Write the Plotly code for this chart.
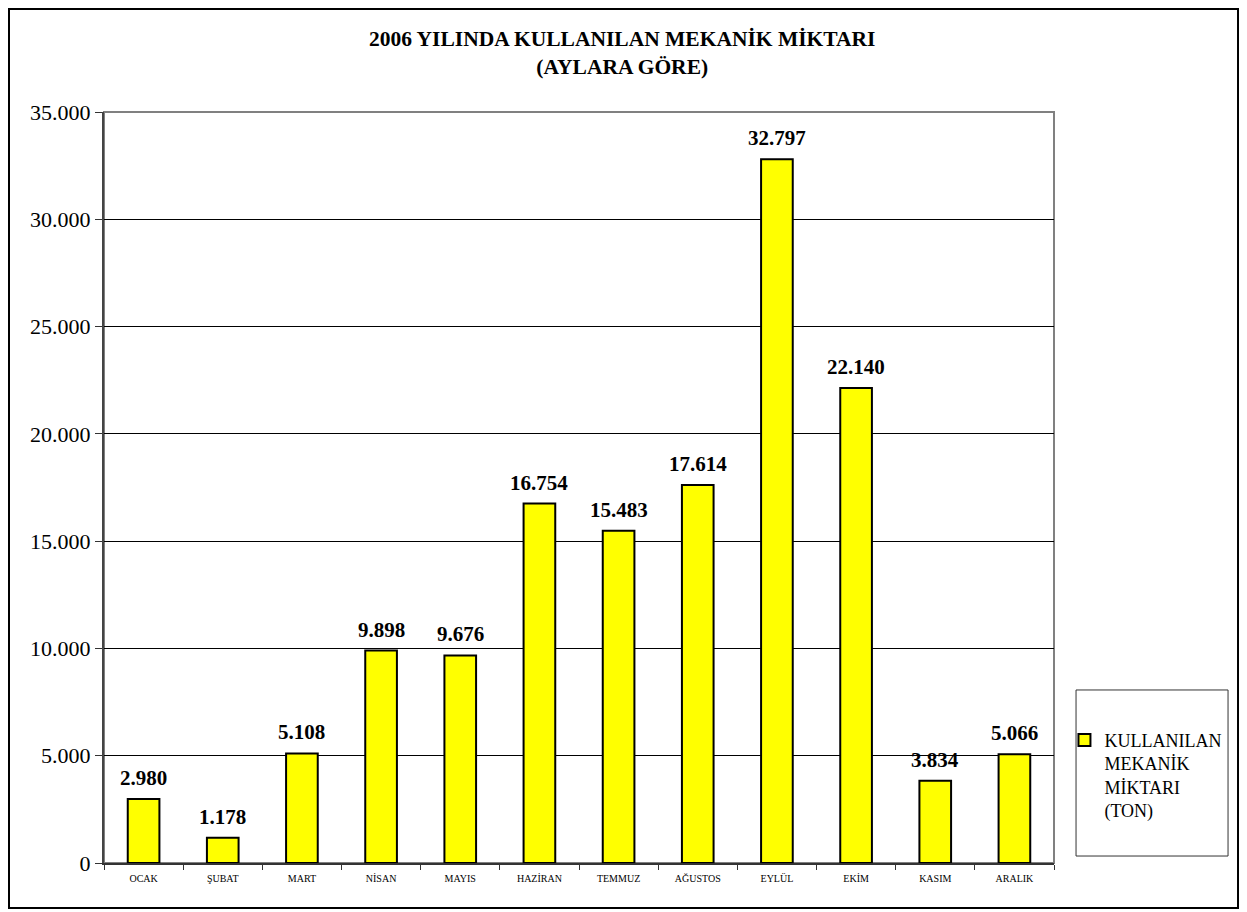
import plotly.graph_objects as go

months = ["OCAK", "ŞUBAT", "MART", "NİSAN", "MAYIS", "HAZİRAN",
          "TEMMUZ", "AĞUSTOS", "EYLÜL", "EKİM", "KASIM", "ARALIK"]
values = [2980, 1178, 5108, 9898, 9676, 16754, 15483, 17614, 32797, 22140, 3834, 5066]
series_name = "KULLANILAN<br>MEKANİK<br>MİKTARI<br>(TON)"
title_text = "2006 YILINDA KULLANILAN MEKANİK MİKTARI<br>(AYLARA GÖRE)"
y_ticks = [0, 5000, 10000, 15000, 20000, 25000, 30000, 35000]

FONT = "'Liberation Serif', 'Times New Roman', Times, serif"

def fmt(v):
    return f"{v:,}".replace(",", ".")

fig = go.Figure()
fig.add_trace(go.Bar(
    x=months, y=values, name=series_name,
    marker=dict(color="#FFFF00", line=dict(color="black", width=2)),
    width=0.4, showlegend=True,
))

annotations = [
    dict(x=m, y=v, xref="x", yref="y", text=f"<b>{fmt(v)}</b>", showarrow=False,
         yanchor="bottom", yshift=7, font=dict(family=FONT, size=21, color="black"))
    for m, v in zip(months, values)
]
annotations.append(dict(
    x=0.5463, y=1.0786, xref="paper", yref="paper", text=f"<b>{title_text}</b>",
    showarrow=False, xanchor="center", yanchor="middle",
    font=dict(family=FONT, size=21.5, color="black")))

fig.update_layout(
    width=1239, height=904,
    margin=dict(l=96, r=193, t=104, b=49),
    paper_bgcolor="white", plot_bgcolor="white",
    separators=",.",
    font=dict(family=FONT, color="black"),
    annotations=annotations,
    showlegend=True,
    legend=dict(x=1.011, y=0.188, xanchor="left", yanchor="top",
                bgcolor="rgba(0,0,0,0)", borderwidth=0, valign="top",
                font=dict(family=FONT, size=18, color="black"),
                itemwidth=30),
    bargap=0.6,
    xaxis=dict(type="category", showline=True, linecolor="#333333", linewidth=2,
               ticks="outside", tickson="boundaries", ticklen=5, tickcolor="#333333",
               ticklabelstandoff=5,
               tickfont=dict(family=FONT, size=10, color="black"), showgrid=False),
    yaxis=dict(range=[0, 35000], tickvals=y_ticks, ticktext=[fmt(t) for t in y_ticks],
               showline=True, linecolor="#444444", linewidth=2,
               ticks="outside", ticklen=7, tickcolor="#333333",
               showgrid=True, gridcolor="black", gridwidth=1,
               tickfont=dict(family=FONT, size=22, color="black"), zeroline=False),
    shapes=[
        dict(type="rect", xref="paper", yref="paper", x0=0, x1=1, y0=0, y1=1,
             line=dict(color="#808080", width=2), layer="below"),
        dict(type="rect", xref="paper", yref="paper", x0=1.0232, x1=1.1832,
             y0=0.0093, y1=0.2304, line=dict(color="#333333", width=1)),
        dict(type="rect", xref="paper", yref="paper", x0=-0.1000, x1=1.1937,
             y0=-0.0599, y1=1.1371, line=dict(color="black", width=2)),
    ],
)

fig.write_html("out.html")
